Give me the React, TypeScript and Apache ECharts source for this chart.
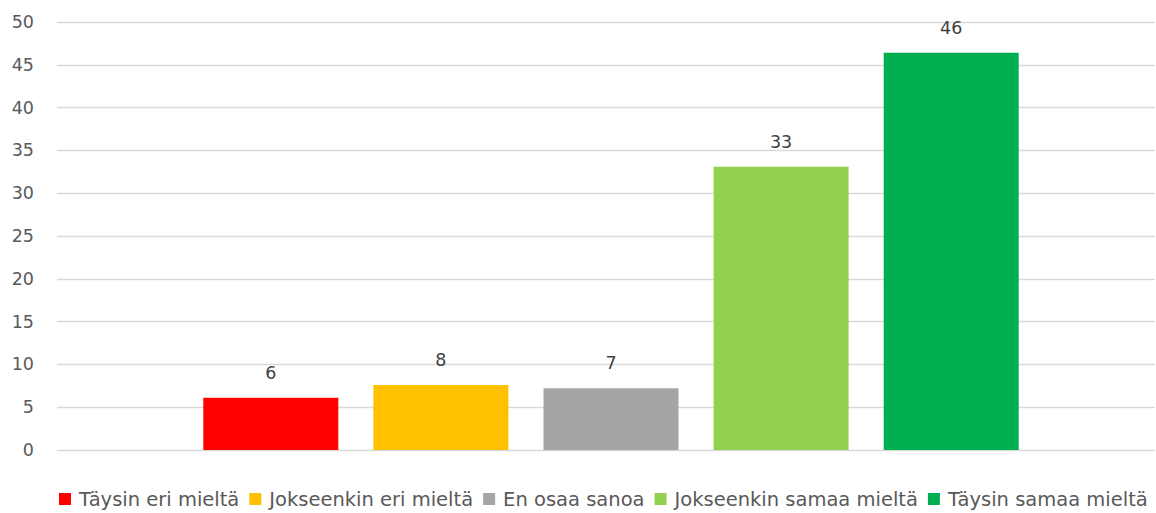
import React, { useEffect, useRef } from "react";
import * as echarts from "echarts";

const categories = ["Vastaukset"];
const seriesNames = [
  "Täysin eri mieltä",
  "Jokseenkin eri mieltä",
  "En osaa sanoa",
  "Jokseenkin samaa mieltä",
  "Täysin samaa mieltä",
];
const seriesValues = [6.1, 7.6, 7.2, 33.1, 46.4];
const seriesColors = ["#FF0000", "#FFC000", "#A5A5A5", "#92D050", "#00B050"];
const yTicks = { min: 0, max: 50, interval: 5 };

export default function App() {
  const ref = useRef<HTMLDivElement>(null);
  useEffect(() => {
    if (!ref.current) return;
    const chart = echarts.init(ref.current, null, { renderer: "svg" });
    const font = "DejaVu Sans";
    chart.setOption({
      animation: false,
      textStyle: { fontFamily: font },
      grid: [
        { left: 57, right: 1, top: 22, bottom: 63 },
        { left: 67, right: 1, top: 22, bottom: 63 },
      ],
      legend: {
        top: 484,
        left: 54,
        itemWidth: 12,
        itemHeight: 12,
        itemGap: 10,
        icon: "rect",
        data: seriesNames,
        textStyle: { fontFamily: font, fontSize: 19.5, color: "#595959", padding: [0, 0, 0, 3] },
      },
      xAxis: [
        {
          gridIndex: 0,
          type: "category",
          data: categories,
          axisLine: { show: false },
          axisTick: { show: false },
          axisLabel: { show: false },
        },
        {
          gridIndex: 1,
          type: "category",
          data: categories,
          axisLine: { show: false },
          axisTick: { show: false },
          axisLabel: { show: false },
        },
      ],
      yAxis: [
        {
          gridIndex: 0,
          type: "value",
          min: yTicks.min,
          max: yTicks.max,
          interval: yTicks.interval,
          axisLine: { show: false },
          axisTick: { show: false },
          axisLabel: { fontFamily: font, fontSize: 17.5, color: "#595959", margin: 23 },
          splitLine: { lineStyle: { color: "#D9D9D9", width: 1.3 } },
        },
        {
          gridIndex: 1,
          type: "value",
          min: yTicks.min,
          max: yTicks.max,
          interval: yTicks.interval,
          show: false,
          splitLine: { show: false },
        },
      ],
      series: seriesNames.map((name, i) => ({
        name,
        type: "bar",
        xAxisIndex: 1,
        yAxisIndex: 1,
        data: [seriesValues[i]],
        barWidth: 135,
        barGap: "26%",
        itemStyle: { color: seriesColors[i] },
        label: {
          show: true,
          position: "top",
          distance: 16,
          fontFamily: font,
          fontSize: 17.5,
          color: "#404040",
          formatter: (p: any) => String(Math.round(p.value)),
        },
      })),
    });
    return () => chart.dispose();
  }, []);
  return (
    <div
      ref={ref}
      style={{ position: "fixed", left: 0, top: 0, width: 1156, height: 513, background: "#fff" }}
    />
  );
}
